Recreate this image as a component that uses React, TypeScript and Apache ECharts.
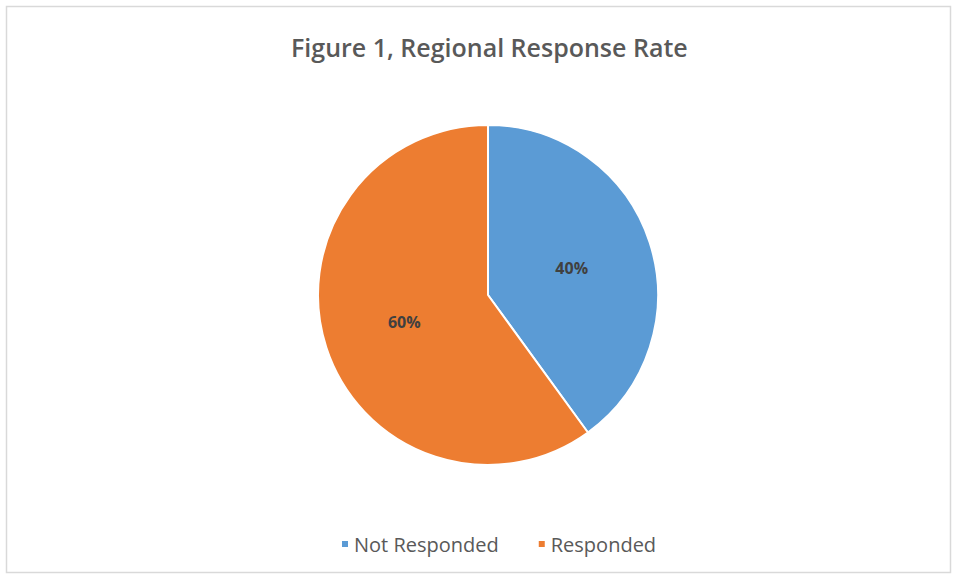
import React, { useEffect, useRef } from "react";
import * as echarts from "echarts";

const categories = ["Not Responded", "Responded"];
const values = [40, 60];
const colors = ["#5B9BD5", "#ED7D31"];
const titleText = "Figure 1, Regional Response Rate";

export default function App() {
  const ref = useRef<HTMLDivElement>(null);
  useEffect(() => {
    if (!ref.current) return;
    const chart = echarts.init(ref.current, null, { renderer: "svg" });
    chart.setOption({
      animation: false,
      backgroundColor: "#ffffff",
      title: {
        text: titleText,
        left: 286,
        top: 29,
        textStyle: {
          fontFamily: "Open Sans",
          fontSize: 25,
          fontWeight: 600,
          color: "#595959",
        },
      },
      graphic: [
        {
          type: "rect",
          shape: { x: 6.5, y: 6.5, width: 944, height: 566 },
          style: { fill: "none", stroke: "#d9d9d9", lineWidth: 1.5 },
          silent: true,
        },
      ],
      legend: {
        data: categories,
        top: 529,
        left: 335,
        icon: "rect",
        itemWidth: 8,
        itemHeight: 8,
        itemGap: 38,
        textStyle: { fontFamily: "Open Sans", fontSize: 20, color: "#595959" },
      },
      series: [
        {
          type: "pie",
          center: [488, 295],
          radius: 170,
          startAngle: 90,
          clockwise: true,
          data: categories.map((c, i) => ({
            name: c,
            value: values[i],
            itemStyle: { color: colors[i] },
          })),
          itemStyle: { borderColor: "#ffffff", borderWidth: 2 },
          label: {
            show: true,
            position: "inside",
            formatter: "{d}%",
            fontFamily: "Open Sans",
            fontSize: 16,
            fontWeight: "bold",
            color: "#404040",
          },
          labelLine: { show: false },
        },
      ],
    });
    return () => chart.dispose();
  }, []);
  return (
    <div
      ref={ref}
      style={{ position: "absolute", left: 0, top: 0, width: 956, height: 578 }}
    />
  );
}
